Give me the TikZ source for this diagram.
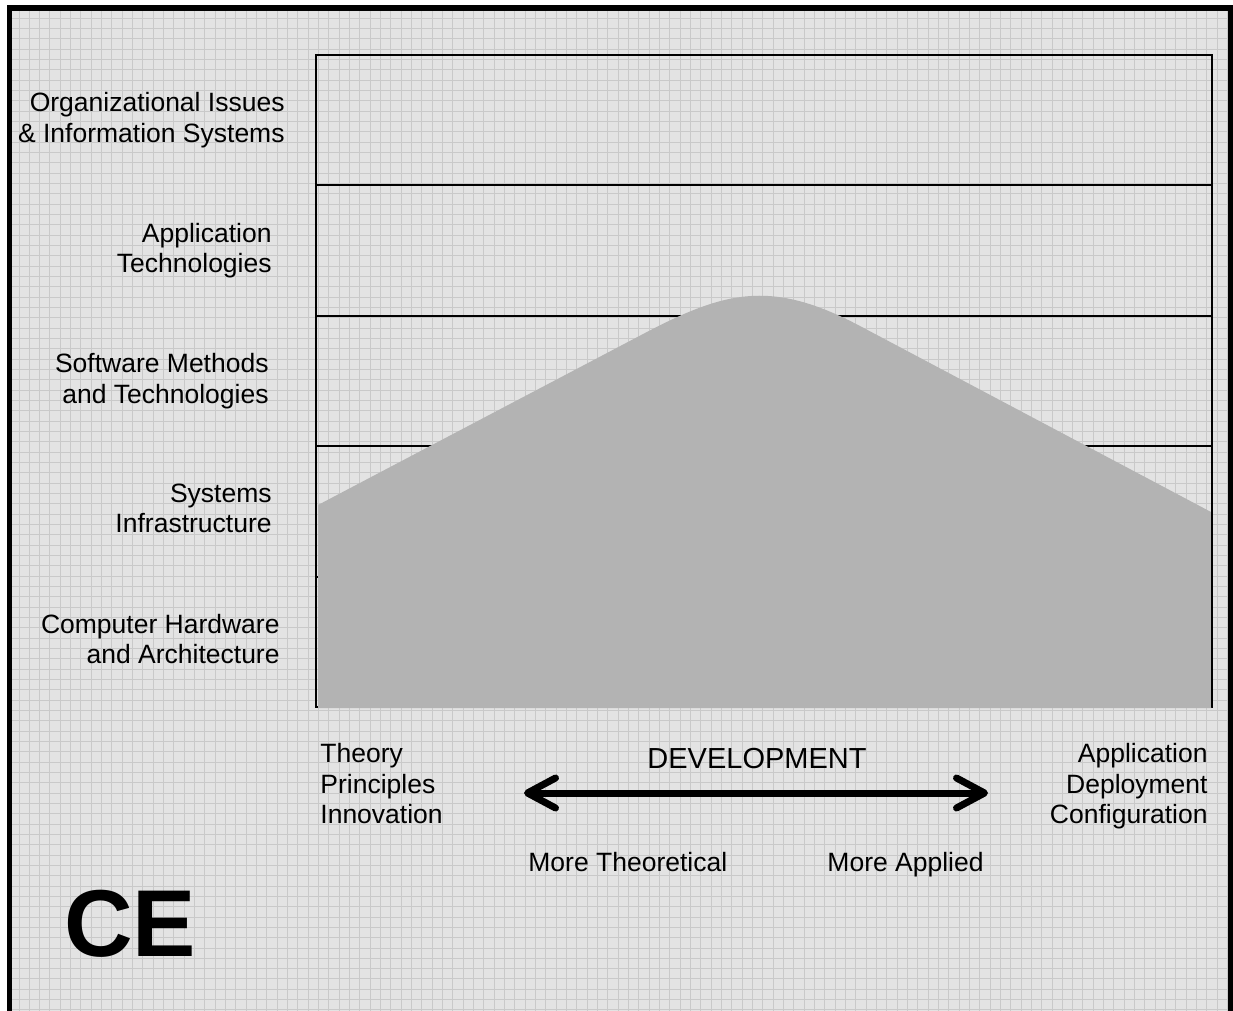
\documentclass[tikz,border=0pt]{standalone}
\usepackage{fontspec}
\setmainfont{Liberation Sans}
\usetikzlibrary{positioning, arrows.meta}
\definecolor{paper}{HTML}{E3E3E3}
\definecolor{gridgray}{HTML}{C9C9C9}
\definecolor{hill}{HTML}{B3B3B3}

\begin{document}
\begin{tikzpicture}[x=0.5pt, y=-0.5pt,
        band/.style={rectangle, draw, line width=1pt, minimum width=448pt, minimum height=65.2pt, inner sep=0pt, outer sep=0pt},
        rowlabel/.style={font=\fontsize{13.25}{15.25}\selectfont, inner sep=0pt, align=right},
        axistext/.style={font=\fontsize{13.25}{15.25}\selectfont, inner sep=0pt},
        gridline/.style={draw=gridgray, line width=0.5pt}]
        \useasboundingbox (0,0) rectangle (1233,1011);
        \clip (0,0) rectangle (1233,1011);
        % paper with grid
        \fill[paper] (7,5) rectangle (1233,1011);
        \foreach \i in {0,...,117} \draw[gridline] ({19+10.33*\i},5) -- ++(0,1010);
        \foreach \j in {0,...,96} \draw[gridline] (7,{18.3+10.33*\j}) -- ++(1230,0);
        \draw[line width=2.75pt] (9.5,8) rectangle (1230.5,1030);
        % the five layers
        \node (row1) [band] at (764,120.2) {};
        \node (row2) [band, below=0pt of row1] {};
        \node (row3) [band, below=0pt of row2] {};
        \node (row4) [band, below=0pt of row3] {};
        \node (row5) [band, below=0pt of row4] {};
        \fill[hill] (318,708) -- (318,505) -- (645,333) .. controls (726,290.5) and (772,279.4) .. (860,326) -- (1211,512) -- (1211,708) -- cycle;
        \draw[line width=1pt] (row1.north west) -- (row5.south west) (row1.north east) -- (row5.south east);
        \node (org) [rowlabel, left=15.5pt of row1] {Organizational Issues\\\& Information Systems};
        \node (apps) [rowlabel, left=22pt of row2] {Application\\Technologies};
        \node (soft) [rowlabel, left=23.5pt of row3] {Software Methods\\and Technologies};
        \node (infra) [rowlabel, left=22pt of row4, yshift=1.5pt] {Systems\\Infrastructure};
        \node (hard) [rowlabel, left=18pt of row5, yshift=1.5pt] {Computer Hardware\\and Architecture};
        % the axis below
        \node (theory) [axistext, align=left, below right=18pt and 2pt of row5.south west] {Theory\\Principles\\Innovation};
        \node (applied) [axistext, align=right, below left=18pt and 2pt of row5.south east] {Application\\Deployment\\Configuration};
        \node (dev) [font=\fontsize{14.5}{17}\selectfont, inner sep=0pt] at (757,759) {DEVELOPMENT};
        \coordinate (theoend) at (524,793);
        \coordinate (applend) at (988,793);
        \draw[{Straight Barb[round, length=14pt, width=15pt]}-{Straight Barb[round, length=14pt, width=15pt]}, line width=3.5pt] (theoend) -- (applend);
        \node (moretheo) [axistext, anchor=base west] at (528,871) {More Theoretical};
        \node (moreappl) [axistext, anchor=base east] at (984,871) {More Applied};
        \node (ce) [font=\bfseries\fontsize{47.5}{50}\selectfont, inner sep=0pt] at (130,924) {CE};
		\end{tikzpicture}
\end{document}
